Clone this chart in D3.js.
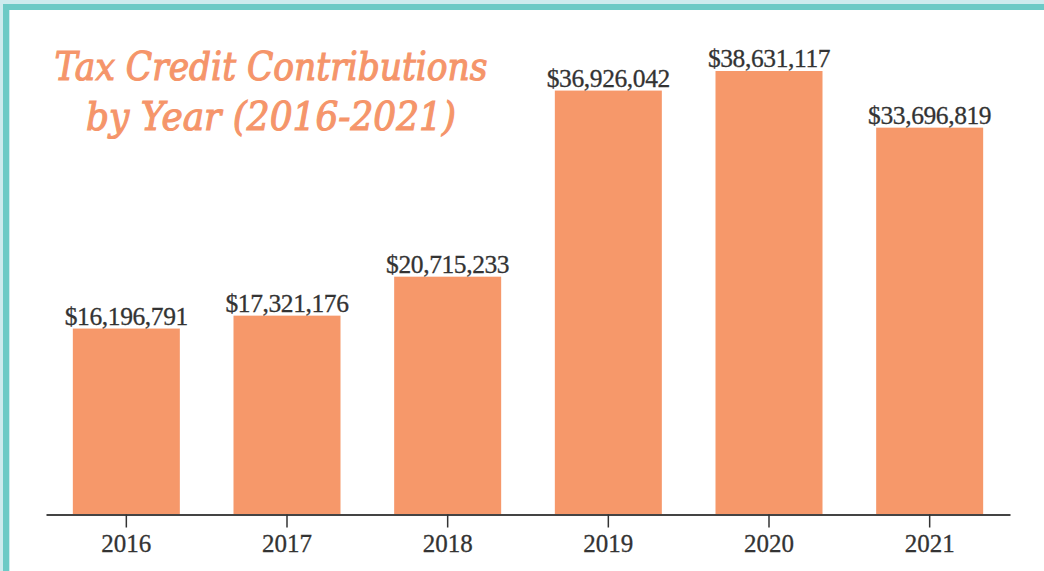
<!DOCTYPE html>
<html>
<head>
<meta charset="utf-8">
<script src="https://cdn.jsdelivr.net/npm/d3@7"></script>
<style>
  html, body { margin: 0; padding: 0; background: #fff; }
  svg { display: block; }
</style>
</head>
<body>
<svg id="chart" width="1044" height="571"></svg>
<script>
// chart data
const years = ["2016", "2017", "2018", "2019", "2020", "2021"];
const contributions = [16196791, 17321176, 20715233, 36926042, 38631117, 33696819];
const titleLines = ["Tax Credit Contributions", "by Year (2016-2021)"];

const width = 1044;
const height = 571;
const barColor = "#f6986a";
const textColor = "#333333";

const svg = d3.select("#chart");

// frame: light cyan edge then teal band on top and left
svg.append("rect")
    .attr("x", 0).attr("y", 0)
    .attr("width", width).attr("height", 10)
    .attr("fill", "#cdebee");
svg.append("rect")
    .attr("x", 0).attr("y", 0)
    .attr("width", 10).attr("height", height)
    .attr("fill", "#cdebee");
svg.append("rect")
    .attr("x", 3).attr("y", 4)
    .attr("width", width - 3).attr("height", 6)
    .attr("fill", "#6ccac6");
svg.append("rect")
    .attr("x", 3).attr("y", 4)
    .attr("width", 6).attr("height", height - 4)
    .attr("fill", "#6ccac6");

const x = d3.scaleBand()
    .domain(years)
    .range([46, 1010])
    .paddingInner(0.334)
    .paddingOuter(0.167);

const y = d3.scaleLinear()
    .domain([0, d3.max(contributions)])
    .range([514.5, 71]);

const data = years.map((yr, i) => ({year: yr, value: contributions[i]}));

svg.append("g")
    .selectAll("rect")
    .data(data)
    .enter()
    .append("rect")
    .attr("x", d => x(d.year))
    .attr("y", d => y(d.value))
    .attr("width", x.bandwidth())
    .attr("height", d => y(0) - y(d.value))
    .attr("fill", barColor);

const fmt = d3.format("$,");
svg.append("g")
    .selectAll("text")
    .data(data)
    .enter()
    .append("text")
    .attr("x", d => x(d.year) + x.bandwidth() / 2)
    .attr("y", d => y(d.value) - 4)
    .attr("text-anchor", "middle")
    .attr("font-family", "'Liberation Serif', serif")
    .attr("font-size", 25.5)
    .attr("letter-spacing", -0.4)
    .attr("stroke", textColor)
    .attr("stroke-width", 0.3)
    .attr("fill", textColor)
    .text(d => fmt(d.value));

const xAxis = svg.append("g")
    .attr("transform", `translate(0,${y(0)})`)
    .call(d3.axisBottom(x).tickSize(13).tickSizeOuter(0));
xAxis.select(".domain").attr("stroke", "#444").attr("stroke-width", 2);
xAxis.selectAll(".tick line").attr("stroke", "#333").attr("stroke-width", 1.5);
xAxis.selectAll(".tick text")
    .attr("dy", 0)
    .attr("y", 37)
    .attr("font-family", "'Liberation Serif', serif")
    .attr("font-size", 25)
    .attr("stroke", textColor)
    .attr("stroke-width", 0.3)
    .attr("fill", textColor);

// title, in place of the brush-script lettering
const titleWidths = [433, 370];
svg.append("g")
    .selectAll("text")
    .data(titleLines)
    .enter()
    .append("text")
    .attr("x", 271)
    .attr("y", (d, i) => 80 + i * 50)
    .attr("text-anchor", "middle")
    .attr("font-family", "'DejaVu Serif', serif")
    .attr("font-style", "italic")
    .attr("font-size", 40)
    .attr("textLength", (d, i) => titleWidths[i])
    .attr("lengthAdjust", "spacingAndGlyphs")
    .attr("fill", "#f5956a")
    .attr("stroke", "#f5956a")
    .attr("stroke-width", 1.2)
    .text(d => d);
</script>
</body>
</html>
